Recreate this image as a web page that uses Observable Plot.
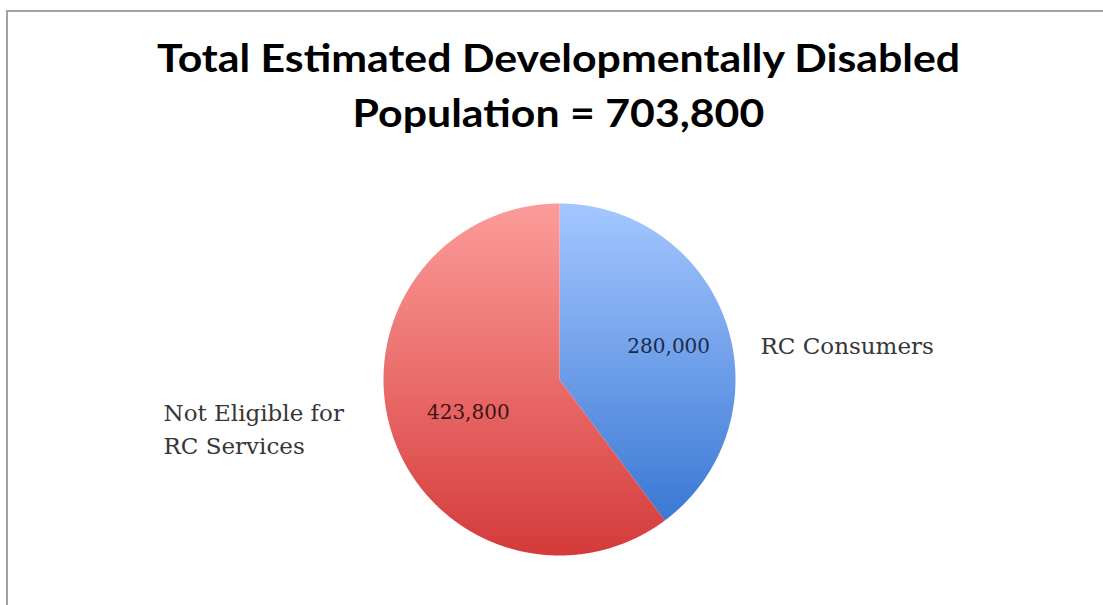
<!DOCTYPE html>
<html><head><meta charset="utf-8">
<script src="https://cdn.jsdelivr.net/npm/d3@7"></script>
<script src="https://cdn.jsdelivr.net/npm/@observablehq/plot@0.6"></script>
<style>
html,body{margin:0;padding:0;background:#fff;overflow:hidden}
#wrap{position:relative;width:1103px;height:605px;overflow:hidden;background:#fff}
#frame{position:absolute;left:6px;top:10px;width:1200px;height:700px;border-left:2px solid #a2a2a2;border-top:2px solid #a2a2a2;pointer-events:none}
#title{height:170px;box-sizing:border-box;padding-top:30px;font-family:Lato,"Open Sans",sans-serif;font-weight:700;font-size:39px;line-height:55px;color:#000;text-align:center}
#title span{display:inline-block;white-space:nowrap;transform-origin:50% 50%}
#chart svg{display:block}
</style></head><body>
<div id="wrap">
  <div id="title"><span id="t1">Total Estimated Developmentally Disabled</span><br><span id="t2">Population = 703,800</span></div>
  <div id="chart"></div>
  <div id="frame"></div>
</div>
<script>
// ---- data ----
const categories = ["RC Consumers", "Not Eligible for\nRC Services"];
const values = [280000, 423800];
const valueLabels = ["280,000", "423,800"];
const sliceFills = ["url(#gBlue)", "url(#gRed)"];
const valueColors = ["#1c2a4a", "#3d1414"];

// ---- title width fit ----
function fitTitle(){
  const t1 = document.getElementById("t1"), t2 = document.getElementById("t2");
  t1.style.transform = t2.style.transform = "none";
  const k = 803 / t1.getBoundingClientRect().width;
  const tr = `translateX(7px) scaleX(${k})`;
  t1.style.transform = tr; t2.style.transform = tr;
}
fitTitle();
if (document.fonts && document.fonts.ready) document.fonts.ready.then(fitTitle);

// ---- layout ----
const W = 1103, H = 435, cx = 559, cy = 209, R = 176;

const data = categories.map((c, i) => ({category: c, value: values[i], label: valueLabels[i], fill: sliceFills[i], tcolor: valueColors[i]}));
const arcs = d3.pie().sort(null).value(d => d.value)(data);
arcs.forEach(a => { a.mid = (a.startAngle + a.endAngle) / 2; a.right = a.mid < Math.PI; });

function slicePoints(a){
  const pts = [{x: 0, y: 0}];
  const n = Math.max(2, Math.ceil((a.endAngle - a.startAngle) / (Math.PI / 720)));
  for (let i = 0; i <= n; i++) {
    const t = a.startAngle + (a.endAngle - a.startAngle) * i / n;
    pts.push({x: Math.sin(t), y: Math.cos(t)});
  }
  return pts;
}

const defs = () => {
  const d = d3.create("svg:defs");
  const b = d.append("linearGradient").attr("id", "gBlue").attr("x1", 0).attr("y1", 0).attr("x2", 0).attr("y2", 1);
  b.append("stop").attr("offset", "0%").attr("stop-color", "#a4c7ff");
  b.append("stop").attr("offset", "50%").attr("stop-color", "#70a0ea");
  b.append("stop").attr("offset", "100%").attr("stop-color", "#3a78d3");
  const r = d.append("linearGradient").attr("id", "gRed").attr("x1", 0).attr("y1", 0).attr("x2", 0).attr("y2", 1);
  r.append("stop").attr("offset", "0%").attr("stop-color", "#fb9c9a");
  r.append("stop").attr("offset", "50%").attr("stop-color", "#ea6d6b");
  r.append("stop").attr("offset", "100%").attr("stop-color", "#d43a3a");
  return d.node();
};

const LR = 0.6;
const chart = Plot.plot({
  width: W, height: H, margin: 0,
  x: {domain: [-cx / R, (W - cx) / R], axis: null},
  y: {domain: [-(H - cy) / R, cy / R], axis: null},
  color: {type: "identity"},
  marks: [
    defs,
    ...arcs.map(a => Plot.line(slicePoints(a), {x: "x", y: "y", fill: a.data.fill, stroke: "none", style: "filter: drop-shadow(0px 0px 1.5px rgba(0,0,0,0.18))"})),
    Plot.text(arcs, {
      x: a => LR * Math.sin(a.mid), y: a => LR * Math.cos(a.mid), dx: 9,
      text: a => a.data.label, fill: a => a.data.tcolor,
      fontFamily: "DejaVu Serif", fontSize: 20
    }),
    Plot.text(arcs.filter(a => a.right), {
      x: 1.142, y: a => LR * Math.cos(a.mid),
      text: a => a.data.category, textAnchor: "start", fill: "#363636",
      fontFamily: "DejaVu Serif", fontSize: 23
    }),
    Plot.text(arcs.filter(a => !a.right), {
      x: -2.25, y: a => LR * Math.cos(a.mid), dy: 14,
      text: a => a.data.category, textAnchor: "start", lineHeight: 1.43, fill: "#363636",
      fontFamily: "DejaVu Serif", fontSize: 23
    })
  ]
});
document.getElementById("chart").appendChild(chart);
</script>
</body></html>
